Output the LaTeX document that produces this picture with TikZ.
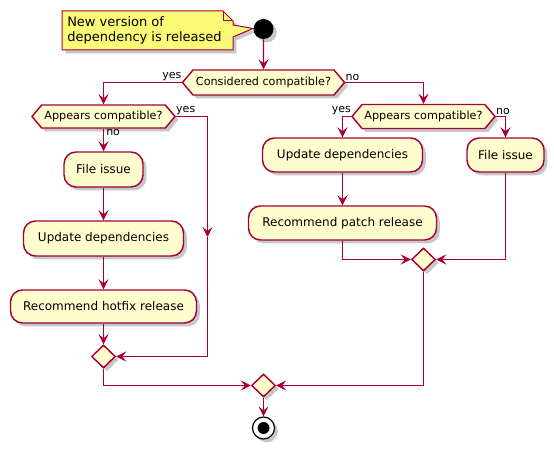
\documentclass[tikz,border=0pt]{standalone}
\usepackage{fontspec}
\setmainfont{DejaVu Sans}
\usetikzlibrary{shapes.geometric,shapes.symbols,arrows.meta,shadows}
\definecolor{pred}{HTML}{A80036}
\definecolor{pfill}{HTML}{FEFECE}
\definecolor{pnote}{HTML}{FBFB77}
\begin{document}
\begin{tikzpicture}[x=0.75pt,y=-0.75pt,
 shad/.style={drop shadow={shadow xshift=2.5pt,shadow yshift=-2.5pt,fill=black,opacity=0.22}},
 act/.style={rectangle,rounded corners=9pt,draw=pred,fill=pfill,line width=1.1pt,font=\fontsize{9}{11}\selectfont,inner sep=0pt,shad},
 dec/.style={signal,signal to=west and east,signal pointer angle=100,draw=pred,fill=pfill,line width=1.1pt,font=\fontsize{8.4}{10}\selectfont,inner sep=0pt,shad},
 mrg/.style={diamond,draw=pred,fill=pfill,line width=1.1pt,inner sep=0pt,minimum width=18pt,minimum height=17.25pt,shad},
 lbl/.style={font=\fontsize{8.25}{10}\selectfont,inner sep=0pt},
 con/.style={draw=pred,line width=1.1pt},
 arr/.style={con,-{Stealth[length=7.5pt,width=7.5pt,inset=3pt]}},
]
\useasboundingbox (0,0) rectangle (554,449);

% note
\path[draw=pred,fill=pnote,line width=0.75pt,shad] (62,11) -- (223,11) -- (233,21) -- (233,25) -- (253,28.5) -- (233,37) -- (233,50) -- (62,50) -- cycle;
\draw[pred,line width=0.75pt] (223,11) -- (223,21) -- (233,21);
\node[font=\fontsize{9.75}{11.25}\selectfont,align=left,anchor=west,inner sep=0pt] (notetxt) at (67,30) {New version of\\dependency is released};

% start / end
\node[circle,fill=black,minimum size=15pt,inner sep=0pt,shad] (start) at (263.5,29) {};
\node[circle,draw=black,fill=white,line width=0.9pt,minimum size=16.5pt,inner sep=0pt,shad] (end) at (263.5,428) {};
\fill[black] (end.center) circle (4.5pt);

% decisions
\node[dec,minimum width=121.5pt,minimum height=18.75pt] (d1) at (263.5,82.5) {Considered compatible?};
\node[dec,minimum width=107.25pt,minimum height=17.25pt] (d2) at (103.5,116.5) {Appears compatible?};
\node[dec,minimum width=107.25pt,minimum height=18pt] (d3) at (423.5,116.5) {Appears compatible?};

% activities left
\node[act,minimum width=59.25pt,minimum height=26.25pt] (fi1) at (103.5,169.5) {File issue};
\node[act,minimum width=120pt,minimum height=26.25pt] (ud1) at (103.5,238.5) {Update dependencies};
\node[act,minimum width=139.5pt,minimum height=24.75pt] (rh) at (103.5,306.5) {Recommend hotfix release};

% activities right
\node[act,minimum width=120pt,minimum height=25.5pt] (ud2) at (342.5,155) {Update dependencies};
\node[act,minimum width=57.75pt,minimum height=25.5pt] (fi2) at (505.5,155) {File issue};
\node[act,minimum width=141pt,minimum height=25.5pt] (rp) at (342.5,223) {Recommend patch release};

% merges
\node[mrg] (m1) at (103.5,356.5) {};
\node[mrg] (m2) at (423.5,259.5) {};
\node[mrg] (m3) at (263.5,385.5) {};

\coordinate (yb) at (207.5,237);

% connectors
\draw[arr] (start) -- (d1);
\draw[arr] (d1.west) -| (d2.north);
\node[lbl,anchor=south east] (lyes1) at ([yshift=1pt]d1.west) {yes};
\draw[arr] (d1.east) -| (d3.north);
\node[lbl,anchor=south west] (lno1) at ([yshift=1pt]d1.east) {no};

\draw[arr] (d2.south) -- (fi1.north);
\node[lbl,anchor=north west] (lno2) at (106,129) {no};
\draw[arr] (d2.east) -| (yb);
\node[lbl,anchor=south west] (lyes2) at ([yshift=1pt]d2.east) {yes};
\draw[arr] (yb) |- (m1.east);
\draw[arr] (fi1) -- (ud1);
\draw[arr] (ud1) -- (rh);
\draw[arr] (rh) -- (m1);
\draw[arr] (m1.south) |- (m3.west);

\draw[arr] (d3.west) -| (ud2.north);
\node[lbl,anchor=south east] (lyes3) at ([yshift=1pt]d3.west) {yes};
\draw[arr] (d3.east) -| (fi2.north);
\node[lbl,anchor=south west] (lno3) at ([yshift=1pt]d3.east) {no};
\draw[arr] (ud2) -- (rp);
\draw[arr] (rp.south) |- (m2.west);
\draw[arr] (fi2.south) |- (m2.east);
\draw[arr] (m2.south) |- (m3.east);
\draw[arr] (m3) -- (end);
\end{tikzpicture}
\end{document}
